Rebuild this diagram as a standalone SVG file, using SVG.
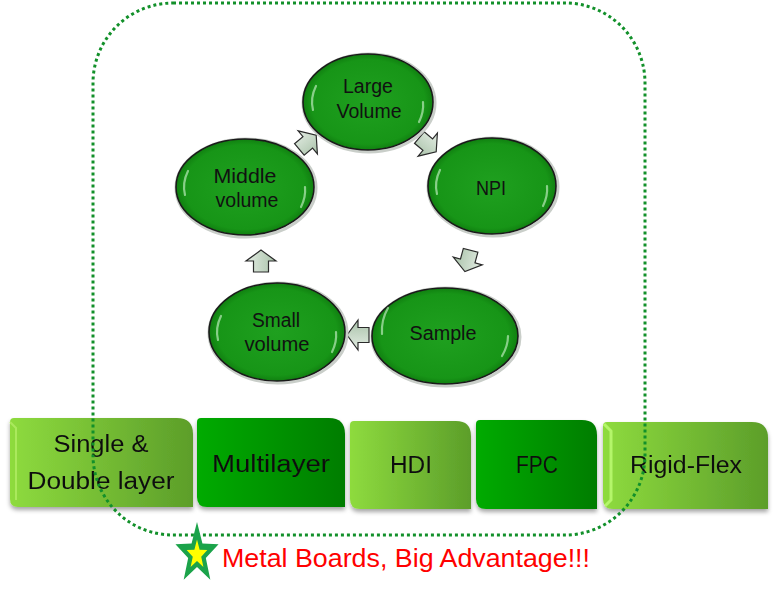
<svg xmlns="http://www.w3.org/2000/svg" xmlns:xlink="http://www.w3.org/1999/xlink" width="777" height="594" viewBox="0 0 777 594">
<defs>
<style>
.etext{font-family:"Liberation Sans",Arial,sans-serif;font-size:20px;fill:#111;text-anchor:middle}
.btext{font-family:"Liberation Sans",Arial,sans-serif;font-size:23px;fill:#111;text-anchor:middle}
.ell{fill:url(#eg);stroke:#1a1a1a;stroke-width:1.6}
.rim{fill:none;stroke:#c9cec9;stroke-width:3}
.gloss{fill:none;stroke:#e6ffe6;stroke-width:2.2;stroke-linecap:round;opacity:0.55}
.light{fill:url(#lg)}
.dark{fill:url(#dg)}
.arr{fill:url(#ag);stroke:#2b2b2b;stroke-width:1.2}
</style>
<radialGradient id="eg" cx="0.5" cy="0.5" r="0.55">
<stop offset="0" stop-color="#1fa01f"/>
<stop offset="0.8" stop-color="#179517"/>
<stop offset="1" stop-color="#0b6e0b"/>
</radialGradient>
<linearGradient id="lg" x1="0" y1="0" x2="1" y2="0">
<stop offset="0" stop-color="#8edb3e"/>
<stop offset="1" stop-color="#5c9e2a"/>
</linearGradient>
<linearGradient id="dg" x1="0" y1="0" x2="1" y2="0">
<stop offset="0" stop-color="#00ab00"/>
<stop offset="1" stop-color="#007d00"/>
</linearGradient>
<linearGradient id="ag" x1="0" y1="0" x2="0" y2="1">
<stop offset="0" stop-color="#e4ede4"/>
<stop offset="1" stop-color="#a9c2a9"/>
</linearGradient>
<filter id="sh" x="-10%" y="-10%" width="120%" height="130%">
<feDropShadow dx="0" dy="3" stdDeviation="2" flood-color="#000" flood-opacity="0.35"/>
</filter>
<path id="barrow" d="M-10,-7.5 L1,-7.5 L1,-15 L12,0 L1,15 L1,7.5 L-10,7.5 Z"/>
</defs>

<g id="connectors">
<use xlink:href="#barrow" class="arr" transform="translate(307,143) rotate(-40)"/>
<use xlink:href="#barrow" class="arr" transform="translate(427,144) rotate(40)"/>
<use xlink:href="#barrow" class="arr" transform="translate(468,260) rotate(105)"/>
<use xlink:href="#barrow" class="arr" transform="translate(359,335) rotate(180)"/>
<use xlink:href="#barrow" class="arr" transform="translate(261,262) rotate(-90)"/>
</g>

<g id="large-volume">
<ellipse class="rim" cx="369" cy="103" rx="66" ry="49"/>
<ellipse class="ell" cx="368" cy="102" rx="65" ry="48"/>
<path class="gloss" d="M313,110 Q310,98 316,86"/>
<path class="gloss" d="M423,102 Q424,112 419,122"/>
<text class="etext" x="368" y="93" textLength="50" lengthAdjust="spacingAndGlyphs">Large</text>
<text class="etext" x="369" y="118" textLength="65" lengthAdjust="spacingAndGlyphs">Volume</text>
</g>

<g id="npi">
<ellipse class="rim" cx="493" cy="187" rx="65" ry="49"/>
<ellipse class="ell" cx="492" cy="186" rx="64" ry="48"/>
<path class="gloss" d="M437,194 Q434,182 440,170"/>
<path class="gloss" d="M547,186 Q548,196 543,206"/>
<text class="etext" x="491" y="195" textLength="30" lengthAdjust="spacingAndGlyphs">NPI</text>
</g>

<g id="middle-volume">
<ellipse class="rim" cx="246" cy="188" rx="70" ry="49"/>
<ellipse class="ell" cx="245" cy="187" rx="69" ry="48"/>
<path class="gloss" d="M185,195 Q182,183 188,171"/>
<path class="gloss" d="M305,187 Q306,197 301,207"/>
<text class="etext" x="245" y="183" textLength="63" lengthAdjust="spacingAndGlyphs">Middle</text>
<text class="etext" x="247" y="207" textLength="63" lengthAdjust="spacingAndGlyphs">volume</text>
</g>

<g id="small-volume">
<ellipse class="rim" cx="278" cy="333" rx="69" ry="50"/>
<ellipse class="ell" cx="277" cy="332" rx="68" ry="49"/>
<path class="gloss" d="M218,340 Q215,328 221,316"/>
<path class="gloss" d="M336,332 Q337,342 332,352"/>
<text class="etext" x="276" y="327" textLength="48" lengthAdjust="spacingAndGlyphs">Small</text>
<text class="etext" x="277" y="351" textLength="65" lengthAdjust="spacingAndGlyphs">volume</text>
</g>

<g id="sample">
<ellipse class="rim" cx="446" cy="337" rx="74" ry="49"/>
<ellipse class="ell" cx="445" cy="336" rx="73" ry="48"/>
<path class="gloss" d="M382,334 Q381,320 388,308"/>
<path class="gloss" d="M508,336 Q508,346 502,356"/>
<text class="etext" x="443" y="340" textLength="67" lengthAdjust="spacingAndGlyphs">Sample</text>
</g>

<g id="single-double" filter="url(#sh)">
<path class="light" d="M14,418 L177,418 Q193,418 193,434 L193,507 L18,507 Q10,507 10,499 L10,422 Q10,418 14,418 Z"/>
<path d="M10,422 L16,428 L16,500" fill="none" stroke="#b6f06a" stroke-width="2" opacity="0.7"/>
<text class="btext" x="101" y="452" textLength="95" lengthAdjust="spacingAndGlyphs">Single &amp;</text>
<text class="btext" x="101" y="489" textLength="147" lengthAdjust="spacingAndGlyphs">Double layer</text>
</g>

<g id="multilayer" filter="url(#sh)">
<path class="dark" d="M201,418 L329,418 Q345,418 345,434 L345,507 L207,507 Q197,507 197,497 L197,422 Q197,418 201,418 Z"/>
<text class="btext" x="271" y="472" textLength="118" lengthAdjust="spacingAndGlyphs">Multilayer</text>
</g>

<g id="hdi" filter="url(#sh)">
<path class="light" d="M354,421 L456,421 Q471,421 471,436 L471,509 L360,509 Q350,509 350,499 L350,425 Q350,421 354,421 Z"/>
<text class="btext" x="411" y="473" textLength="42" lengthAdjust="spacingAndGlyphs">HDI</text>
</g>

<g id="fpc" filter="url(#sh)">
<path class="dark" d="M480,420 L582,420 Q597,420 597,435 L597,509 L486,509 Q476,509 476,499 L476,424 Q476,420 480,420 Z"/>
<text class="btext" x="537" y="473" textLength="42" lengthAdjust="spacingAndGlyphs">FPC</text>
</g>

<g id="rigid-flex" filter="url(#sh)">
<path class="light" d="M607,422 L752,422 Q768,422 768,438 L768,509 L613,509 Q603,509 603,499 L603,426 Q603,422 607,422 Z"/>
<path d="M604,424 L611,431 L611,500 L605,506" fill="none" stroke="#c2ff7a" stroke-width="3" opacity="0.75"/>
<text class="btext" x="686" y="473" textLength="112" lengthAdjust="spacingAndGlyphs">Rigid-Flex</text>
</g>

<g id="boundary">
<rect x="93" y="3" width="552" height="532" rx="80" ry="80" fill="none" stroke="#12902a" stroke-width="3" stroke-dasharray="3 3"/>
</g>

<g id="note">
<g transform="translate(197,554) scale(1.03,1.45)">
<polygon points="0,-22 5.29,-7.28 20.92,-6.8 8.56,2.78 12.93,17.8 0,9 -12.93,17.8 -8.56,2.78 -20.92,-6.8 -5.29,-7.28" fill="#1ba34a"/>
<polygon points="0,-22 5.29,-7.28 20.92,-6.8 8.56,2.78 12.93,17.8 0,9 -12.93,17.8 -8.56,2.78 -20.92,-6.8 -5.29,-7.28" fill="#ffff00" transform="translate(0,0.5) scale(0.48)"/>
</g>
<text x="222" y="567" font-family="Liberation Sans, Arial, sans-serif" font-size="25" fill="#ff0000" textLength="368" lengthAdjust="spacingAndGlyphs">Metal Boards, Big Advantage!!!</text>
</g>
</svg>
